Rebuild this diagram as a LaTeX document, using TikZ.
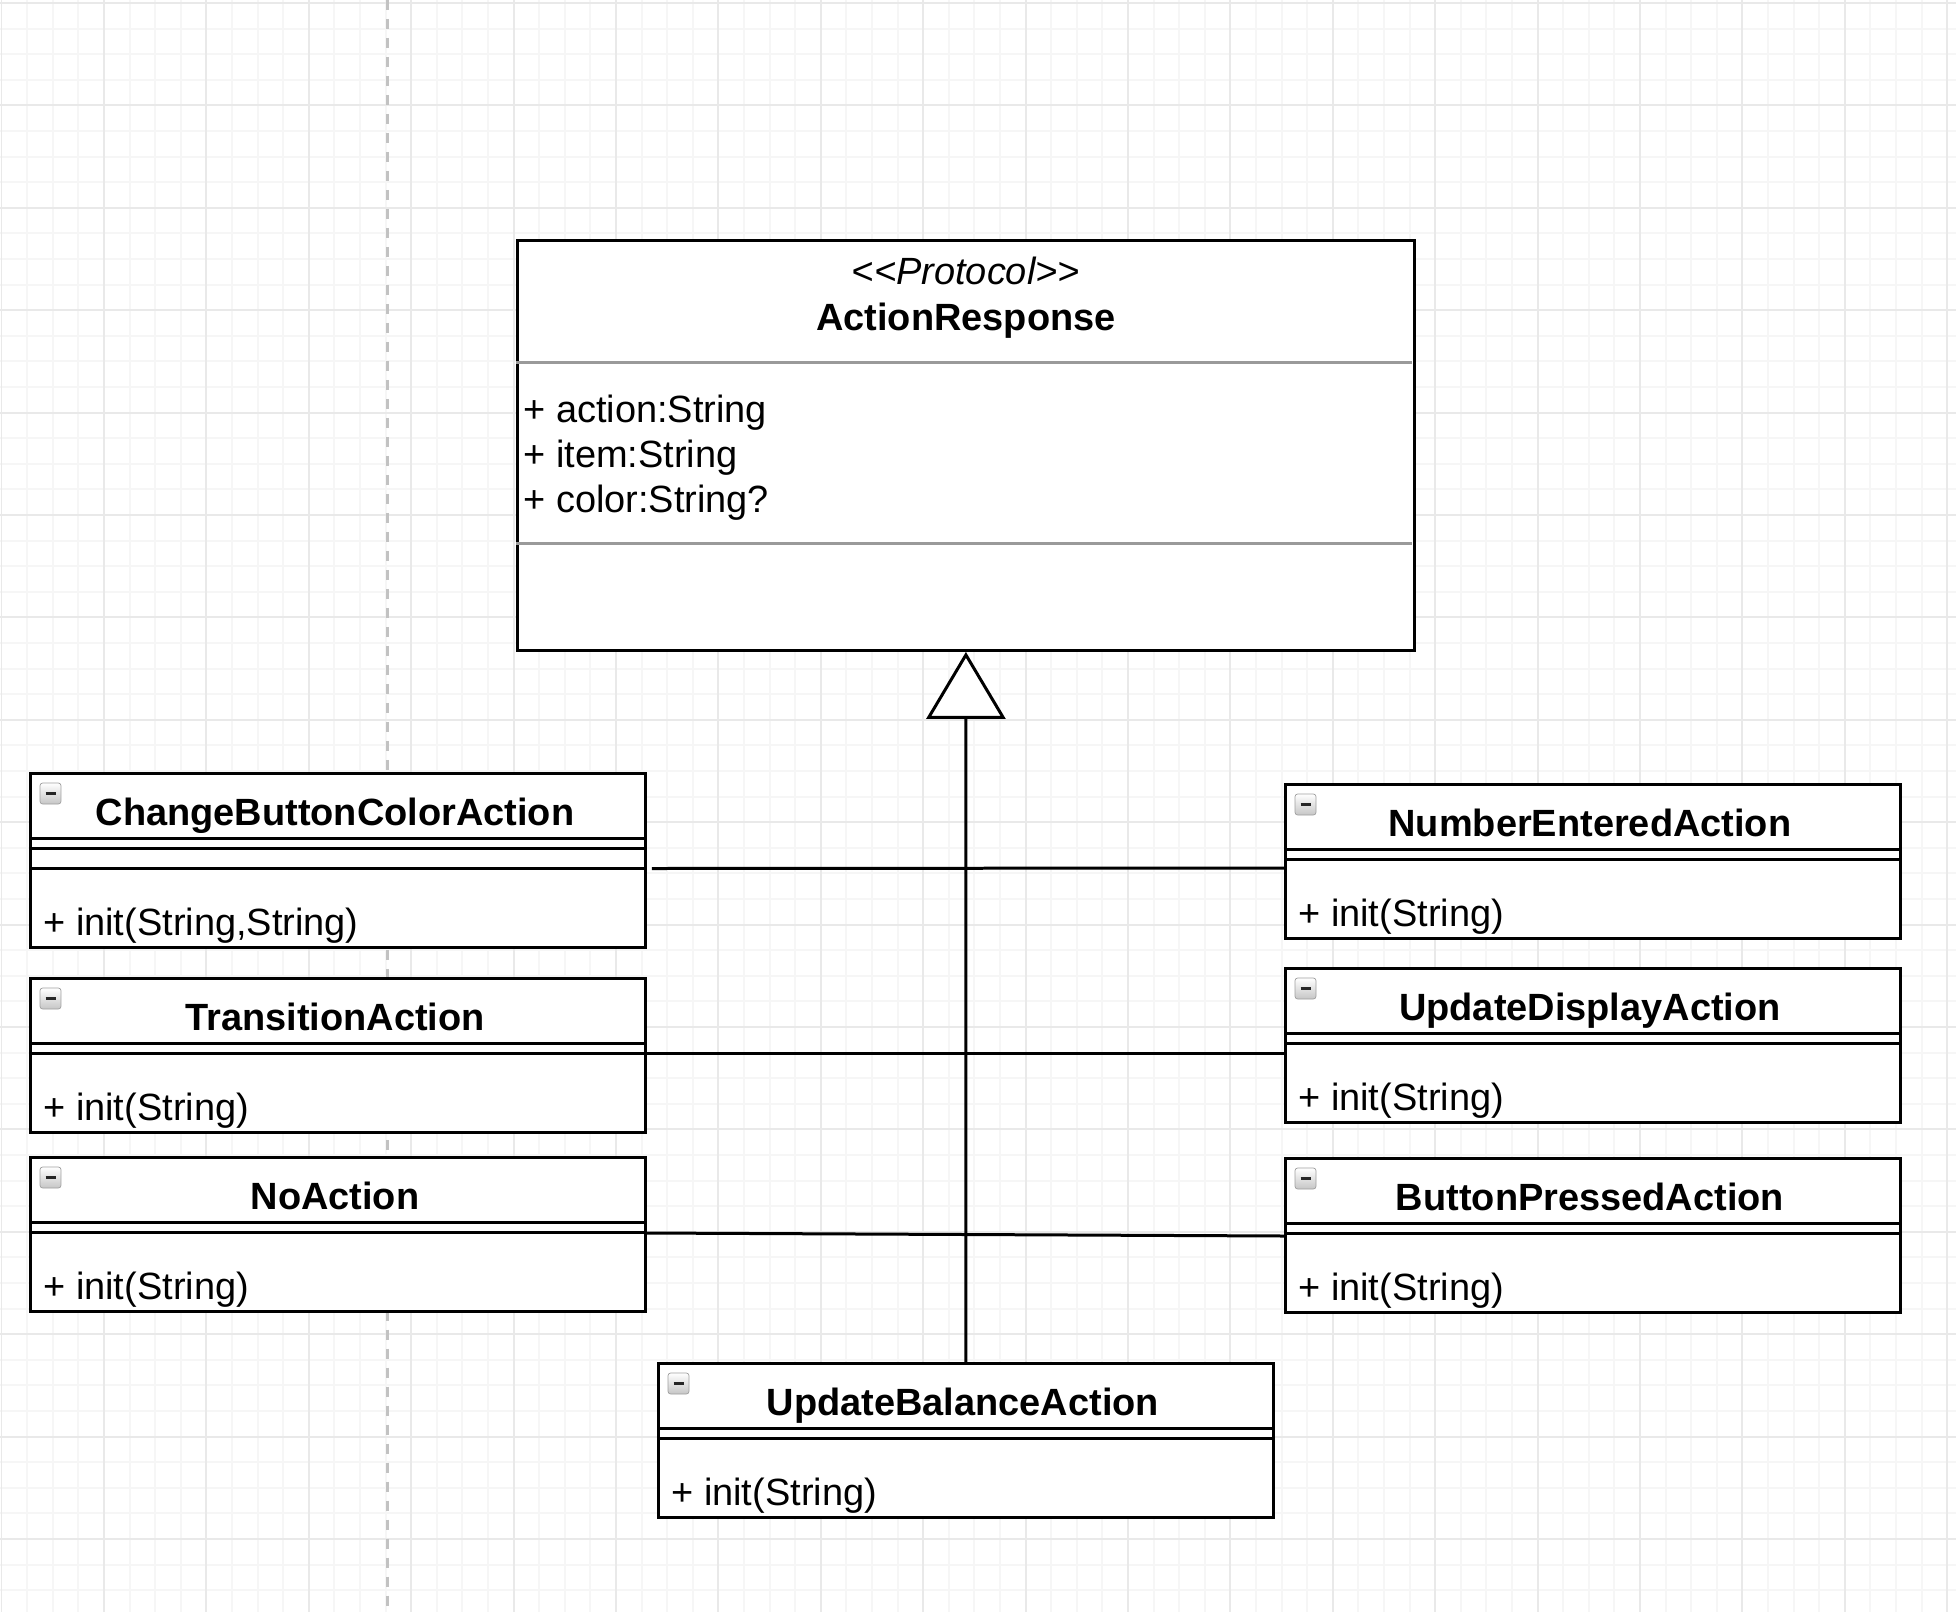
\documentclass[tikz,border=0pt]{standalone}
\usepackage{fontspec}
\setmainfont{Liberation Sans}
\usetikzlibrary{calc,arrows.meta}
\newcommand\classWidth{12.3cm}
\newcommand\classHeight{3.08cm}
\newcommand\classHeightTall{3.48cm}
\newcommand\protocolWidth{17.94cm}
\newcommand\protocolHeight{8.2cm}
\newcommand\umlLineWidth{0.06cm}
\newcommand\umlFont{\fontsize{21.6pt}{25pt}\selectfont}
\definecolor{gridMinor}{HTML}{F6F6F6}
\definecolor{gridMajor}{HTML}{E9E9E9}
\definecolor{guideColor}{HTML}{C2C2C2}
\definecolor{compartmentColor}{HTML}{9A9A9A}

\begin{document}
\begin{tikzpicture}[x=0.02cm, y=-0.02cm,
    classbox/.style={draw=black, line width=\umlLineWidth, fill=white, shape=rectangle, minimum width=\classWidth, minimum height=\classHeight, anchor=north west, inner sep=0pt},
    classline/.style={draw=black, line width=\umlLineWidth},
    classname/.style={font=\umlFont\bfseries, anchor=base, inner sep=0pt},
    member/.style={font=\umlFont, anchor=base west, inner sep=0pt},
    collapse/.style={draw=gray!75, rounded corners=1.5pt, minimum size=0.42cm, inner sep=0pt, top color=white, bottom color=gray!45,
        path picture={\draw[line width=0.05cm, black!85] ([xshift=-0.1cm]path picture bounding box.center) -- ([xshift=0.1cm]path picture bounding box.center);}},
    assoc/.style={draw=black, line width=\umlLineWidth}]

    \useasboundingbox (0,0) rectangle (1956,1612);
    \fill[white] (0,0) rectangle (1956,1612);

    % background grid
    \foreach \x in {0,...,76}{
        \draw[gridMinor, line width=0.04cm] ({1.5+25.6*\x},0) -- ({1.5+25.6*\x},1612);
    }
    \foreach \y in {0,...,62}{
        \draw[gridMinor, line width=0.04cm] (0,{3+25.6*\y}) -- (1956,{3+25.6*\y});
    }
    \foreach \x in {0,...,19}{
        \draw[gridMajor, line width=0.04cm] ({1.5+102.4*\x},0) -- ({1.5+102.4*\x},1612);
    }
    \foreach \y in {0,...,15}{
        \draw[gridMajor, line width=0.04cm] (0,{3+102.4*\y}) -- (1956,{3+102.4*\y});
    }
    \draw[guideColor, line width=\umlLineWidth, dash pattern=on 0.2cm off 0.18cm] (387,0) -- (387,1612);

    % the protocol
    \node [classbox, minimum width=\protocolWidth, minimum height=\protocolHeight] (actionResponse) at (516,239) {};
    \draw [compartmentColor, line width=\umlLineWidth] ($(actionResponse.north west)+(0,123)$) -- ($(actionResponse.north east)+(-4,123)$);
    \draw [compartmentColor, line width=\umlLineWidth] ($(actionResponse.north west)+(0,304)$) -- ($(actionResponse.north east)+(-4,304)$);
    \node [font=\umlFont\itshape, anchor=base, inner sep=0pt] (actionResponseStereotype) at ($(actionResponse.north)+(0,45)$) {{<}{<}Protocol{>}{>}};
    \node [classname] (actionResponseName) at ($(actionResponse.north)+(0,91)$) {ActionResponse};
    \node [member] (actionResponseAction) at ($(actionResponse.north west)+(7,183)$) {+ action:String};
    \node [member] (actionResponseItem) at ($(actionResponse.north west)+(7,228)$) {+ item:String};
    \node [member] (actionResponseColor) at ($(actionResponse.north west)+(7,273)$) {+ color:String?};

    % the classes
    \node [classbox, minimum height=\classHeightTall] (changeButtonColor) at (29,772) {};
    \node [classbox] (transition) at (29,977) {};
    \node [classbox] (noAction) at (29,1156) {};
    \node [classbox] (numberEntered) at (1284,783) {};
    \node [classbox] (updateDisplay) at (1284,967) {};
    \node [classbox] (buttonPressed) at (1284,1157) {};
    \node [classbox] (updateBalance) at (657,1362) {};

    \foreach \cls in {changeButtonColor,transition,noAction,numberEntered,updateDisplay,buttonPressed,updateBalance}{
        \draw [classline] ($(\cls.north west)+(0,66.5)$) -- ($(\cls.north east)+(0,66.5)$);
        \draw [classline] ($(\cls.north west)+(0,76.5)$) -- ($(\cls.north east)+(0,76.5)$);
        \node [collapse] (\cls Icon) at ($(\cls.north west)+(21.5,21.5)$) {};
    }
    \draw [classline] ($(changeButtonColor.north west)+(0,96.5)$) -- ($(changeButtonColor.north east)+(0,96.5)$);

    \node [classname] (changeButtonColorName) at ($(changeButtonColor.north)+(-3,53)$) {ChangeButtonColorAction};
    \node [classname] (transitionName) at ($(transition.north)+(-3,53)$) {TransitionAction};
    \node [classname] (noActionName) at ($(noAction.north)+(-3,53)$) {NoAction};
    \node [classname] (numberEnteredName) at ($(numberEntered.north)+(-3,53)$) {NumberEnteredAction};
    \node [classname] (updateDisplayName) at ($(updateDisplay.north)+(-3,53)$) {UpdateDisplayAction};
    \node [classname] (buttonPressedName) at ($(buttonPressed.north)+(-3,53)$) {ButtonPressedAction};
    \node [classname] (updateBalanceName) at ($(updateBalance.north)+(-3,53)$) {UpdateBalanceAction};

    \node [member] (changeButtonColorInit) at ($(changeButtonColor.south west)+(14,-13.5)$) {+ init(String,String)};
    \node [member] (transitionInit) at ($(transition.south west)+(14,-13.5)$) {+ init(String)};
    \node [member] (noActionInit) at ($(noAction.south west)+(14,-13.5)$) {+ init(String)};
    \node [member] (numberEnteredInit) at ($(numberEntered.south west)+(14,-13.5)$) {+ init(String)};
    \node [member] (updateDisplayInit) at ($(updateDisplay.south west)+(14,-13.5)$) {+ init(String)};
    \node [member] (buttonPressedInit) at ($(buttonPressed.south west)+(14,-13.5)$) {+ init(String)};
    \node [member] (updateBalanceInit) at ($(updateBalance.south west)+(14,-13.5)$) {+ init(String)};

    % connectors
    \draw [assoc] ($(changeButtonColor.north east)+(5,96.5)$) -- ($(numberEntered.north west)+(0,85)$);
    \draw [assoc] ($(transition.north east)+(0,76.5)$) -- ($(updateDisplay.north west)+(0,86.5)$);
    \draw [assoc] ($(noAction.north east)+(0,77)$) -- ($(buttonPressed.north west)+(0,79)$);
    \draw [assoc, -{Triangle[length=1.34cm, width=1.58cm, fill=white]}] (updateBalance.north) -- (actionResponse.south);

\end{tikzpicture}
\end{document}
